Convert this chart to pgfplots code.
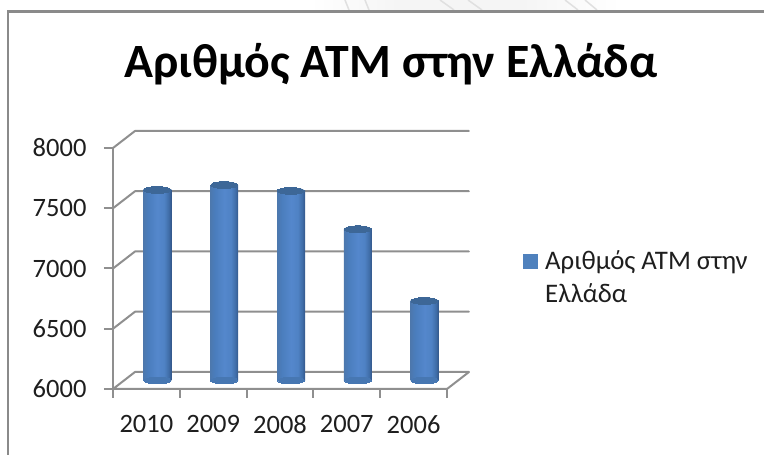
\documentclass[border=0pt]{standalone}
\usepackage{pgfplots}
\pgfplotsset{compat=1.18}
\usepackage{fontspec}
\setmainfont{Carlito}
\definecolor{wallgray}{HTML}{8F8F8F}
\definecolor{framegray}{HTML}{8A8A8A}
\definecolor{txt}{HTML}{1E1E1E}
\definecolor{legblue}{HTML}{4F81BD}
\definecolor{captop}{HTML}{3D6797}
\definecolor{footblue}{HTML}{4777B2}
% Cylinder body: darker edges, lighter band left of centre
\pgfdeclarehorizontalshading{cylbody}{100bp}{
  rgb(0bp)=(0.30,0.47,0.68);
  rgb(25bp)=(0.30,0.47,0.68);
  rgb(33bp)=(0.29,0.49,0.74);
  rgb(50bp)=(0.33,0.53,0.80);
  rgb(62bp)=(0.31,0.51,0.77);
  rgb(70bp)=(0.25,0.43,0.66);
  rgb(75bp)=(0.20,0.34,0.54);
  rgb(100bp)=(0.20,0.34,0.54)}
\tikzset{wall/.style={draw=wallgray,line width=2pt,mark=none,line cap=round,line join=round},
  cylinder body/.style={ybar,bar width=28pt,bar shift=0pt,draw=none,shading=cylbody}}
\begin{document}
\begin{tikzpicture}[x=1pt,y=1pt]
\useasboundingbox (0,0) rectangle (764,455);
% Pale backdrop above the chart frame
\shade[left color=white,right color=gray!8] (310,444) rectangle (400,455);
\fill[gray!8] (400,444) rectangle (520,455);
\shade[left color=gray!8,right color=white] (520,444) rectangle (620,455);
\foreach \a/\b in {345/349,365/369,440/454,468/482,565/578,585/597}
  \draw[gray!24,line width=1.5pt] (\a,455) -- (\b,445);
% Outer chart frame
\draw[line width=2.5pt,color=framegray] (8,0) -- (8,443.5) -- (764,443.5);
% Front plane: ticks, labels and the walls in depth
\begin{axis}[
  at={(113pt,66pt)},anchor=south west,
  scale only axis,width=334pt,height=241pt,
  xmin=-0.5,xmax=4.5,ymin=6000,ymax=8000,
  clip=false,
  axis line style={draw=none},
  xtick={-0.5,0.5,1.5,2.5,3.5,4.5},xticklabels={},
  extra x ticks={0,1,2,3,4},
  extra x tick labels={2010,2009,2008,2007,2006},
  extra x tick style={major tick length=0pt,
    tick label style={yshift=-23pt}},
  ytick={6000,6500,7000,7500,8000},
  yticklabel style={xshift=-14pt},
  major tick style={draw=wallgray,line width=2pt},
  xtick pos=bottom,ytick pos=left,
  major tick length=9pt,
  tick align=outside,
  tick label style={font=\fontsize{26.5}{28}\selectfont,text=txt},
  /pgf/number format/assume math mode=true,
  /pgf/number format/1000 sep={},
]
% Gridlines: front edge, rise to the back wall, run along the wall
\addplot[wall] coordinates {(-0.5,6000)(-0.171,6141.1)(4.829,6141.1)(4.5,6000)(-0.5,6000)};
\addplot[wall] coordinates {(-0.5,6500)(-0.171,6641.1)(4.829,6641.1)};
\addplot[wall] coordinates {(-0.5,7000)(-0.171,7141.1)(4.829,7141.1)};
\addplot[wall] coordinates {(-0.5,7500)(-0.171,7641.1)(4.829,7641.1)};
\addplot[wall] coordinates {(-0.5,8000)(-0.171,8141.1)(4.829,8141.1)};
\addplot[wall] coordinates {(-0.5,6000)(-0.5,8000)};
\end{axis}
% Cylinders sit half way into the depth of the floor
\begin{axis}[
  at={(124pt,74.5pt)},anchor=south west,
  scale only axis,width=334pt,height=241pt,
  xmin=-0.5,xmax=4.5,ymin=6000,ymax=8000,
  clip=false,axis lines=none,
]
\addplot[only marks,mark=*,mark size=13.6pt,
  mark options={draw=footblue,fill=footblue,line width=0pt,yscale=0.25,rotate=6}]
  coordinates {(0,6000)(1,6000)(2,6000)(3,6000)(4,6000)};
\addplot[cylinder body] coordinates {(0,7581)};
\addplot[cylinder body] coordinates {(1,7622)};
\addplot[cylinder body] coordinates {(2,7573)};
\addplot[cylinder body] coordinates {(3,7255)};
\addplot[cylinder body] coordinates {(4,6660)};
\addplot[only marks,mark=*,mark size=13.6pt,
  mark options={draw=captop,fill=captop,line width=0pt,yscale=0.25,rotate=6}]
  coordinates {(0,7581)(1,7622)(2,7573)(3,7255)(4,6660)};
\end{axis}
% Title
\node[font=\fontsize{47.8}{50}\selectfont\bfseries,text=black] at (391,391) {Αριθμός ATM στην Ελλάδα};
% Legend
\fill[legblue] (523,186) rectangle (537.5,201);
\node[anchor=north west,align=left,inner sep=0pt,text=txt,
  font=\fontsize{26.8}{33}\selectfont] at (545,205) {Αριθμός ATM στην\\Ελλάδα};
\end{tikzpicture}
\end{document}
